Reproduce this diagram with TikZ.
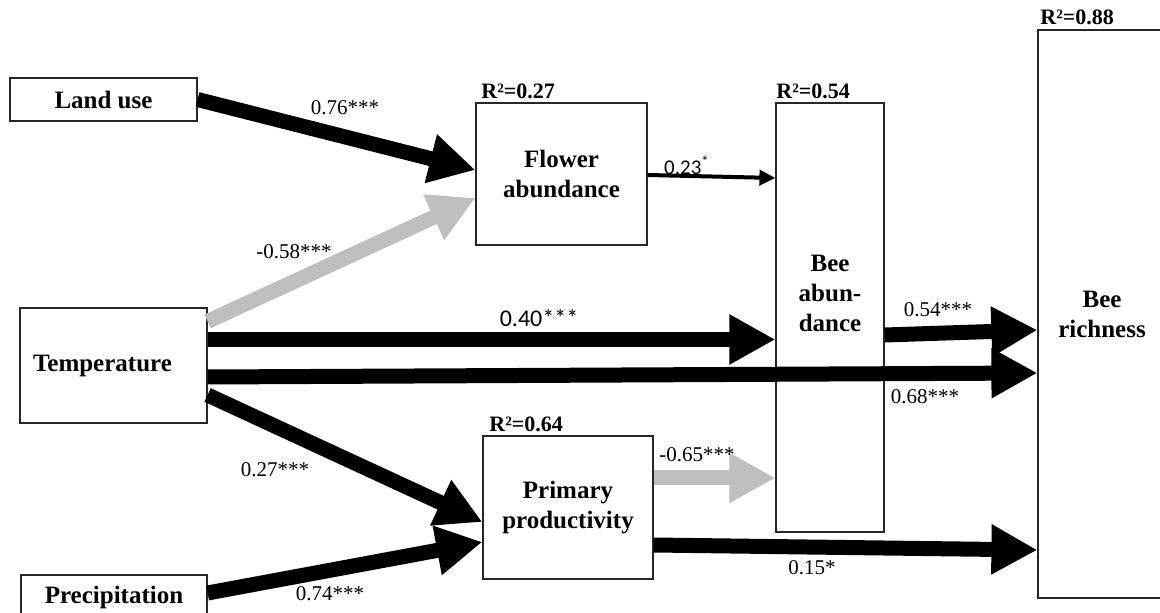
\documentclass[tikz,border=0pt]{standalone}
\usepackage{fontspec}
\setmainfont{Liberation Serif}
\newfontfamily\calibfont{Carlito}
\usetikzlibrary{arrows.meta,calc}
\definecolor{arrowGray}{RGB}{191,191,191}
\definecolor{boxColor}{gray}{0.15}

\tikzset{
  varbox/.style={draw=boxColor, line width=0.6pt, fill=white, align=center,
    inner sep=0pt, font=\fontsize{12.5}{15}\selectfont\bfseries},
  rsq/.style={anchor=south west, inner sep=0pt, outer sep=0pt,
    font=\fontsize{11}{13}\selectfont\bfseries},
  coef/.style={inner sep=0pt, font=\fontsize{10.5}{12}\selectfont},
  coefsans/.style={inner sep=0pt, font=\calibfont\fontsize{12}{14}\selectfont},
  bigarrow/.style={line width=7.5pt, -{Triangle[length=23pt,width=23.5pt]}},
  greyarrow/.style={bigarrow, draw=arrowGray},
  thinarrow/.style={line width=2pt, -{Triangle[length=8pt,width=7.5pt]}}
}

\begin{document}
\begin{tikzpicture}[x=0.5pt,y=-0.5pt]
\path[use as bounding box] (0,0) rectangle (1160,613);
\clip (0,0) rectangle (1160,613);

% variables
\node[varbox, minimum width=93.5pt, minimum height=21.5pt] (landuse) at (103.5,99.5) {Land use};
\node[varbox, minimum height=57.5pt, text width=80.5pt, inner xsep=6.5pt, align=left] (temp) at (113.5,365.5) {Temperature};
\node[varbox, minimum width=93pt, minimum height=22pt] (precip) at (114,597) {Precipitation};
\node[varbox, minimum width=85.5pt, minimum height=71pt] (flower) at (561.5,174) {Flower\\abundance};
\node[varbox, minimum width=85pt, minimum height=71.5pt] (prim) at (568,507.5) {Primary\\productivity};
\node[varbox, minimum width=54pt, minimum height=214.5pt] (beeab) at (830,317.5) {};
\node[varbox, draw=none, fill=none] (beeabtxt) at (830,293) {Bee\\abun-\\dance};
\node[varbox, minimum width=64pt, minimum height=284pt] (beerich) at (1102,314) {Bee\\richness};

% explained variance
\node[rsq] (rflower) at ($(flower.north west)+(6,-4)$) {R²=0.27};
\node[rsq] (rbeeab) at ($(beeab.north west)+(1,-4)$) {R²=0.54};
\node[rsq] (rprim) at ($(prim.north west)+(7,-4)$) {R²=0.64};
\node[rsq] (rbeerich) at ($(beerich.north west)+(3,-5)$) {R²=0.88};

% paths
\draw[bigarrow] (landuse.east) -- ($(flower.west)+(0,-4)$);
\draw[greyarrow] ($(temp.north east)+(0,14)$) -- ($(flower.west)+(0,24)$);
\draw[bigarrow] ($(temp.east)+(0,-26)$) coordinate (t1) -- (t1 -| beeab.west);
\draw[bigarrow] ($(temp.east)+(0,11.5)$) -- ($(beerich.west)+(0,59)$);
\draw[bigarrow] ($(temp.east)+(0,29.5)$) -- ($(prim.west)+(0,14.5)$);
\draw[bigarrow] ($(precip.east)+(0,-4)$) -- ($(prim.west)+(0,34.5)$);
\draw[thinarrow] ($(flower.east)+(0,1)$) -- ($(beeab.west)+(0,-139.5)$);
\draw[greyarrow] ($(prim.east)+(0,-29.5)$) coordinate (p1) -- (p1 -| beeab.west);
\draw[bigarrow] ($(beeab.east)+(0,17.5)$) -- ($(beerich.west)+(0,16)$);
\draw[bigarrow] ($(prim.east)+(0,37.5)$) -- ($(beerich.west)+(0,236)$);

% path coefficients
\node[coef] (c1) at (345,108) {0.76***};
\node[coef] (c2) at (294,252) {-0.58***};
\node[coefsans] (c3) at (539,318) {0.40***};
\node[coef] (c4) at (925,397) {0.68***};
\node[coef] (c5) at (275,470) {0.27***};
\node[coef] (c6) at (330,594) {0.74***};
\node[coefsans, font=\calibfont\fontsize{10.5}{12}\selectfont] (c7) at (687,165) {0.23\textsuperscript{*}};
\node[coef] (c8) at (697,455) {-0.65***};
\node[coef] (c9) at (938,310) {0.54***};
\node[coef] (c10) at (812,568) {0.15*};
\end{tikzpicture}
\end{document}
